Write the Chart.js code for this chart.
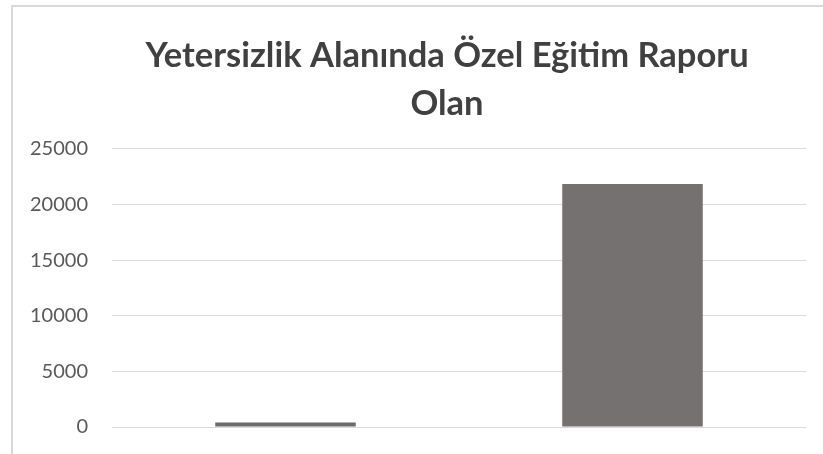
<!DOCTYPE html>
<html>
<head>
<meta charset="utf-8">
<script src="https://cdn.jsdelivr.net/npm/chart.js@4"></script>
<style>
  html, body { margin: 0; padding: 0; background: #fff; }
  #wrap { position: relative; width: 823px; height: 454px; overflow: hidden; }
  #frame { position: absolute; left: 11px; top: 5px; width: 830px; height: 460px;
           border-left: 2px solid #d9d9d9; border-top: 2px solid #d9d9d9; box-sizing: border-box; }
  #c { position: absolute; left: 0; top: 0; }
</style>
</head>
<body>
<div id="wrap">
  <div id="frame"></div>
  <canvas id="c" width="823" height="454"></canvas>
</div>
<script>
const titleLines = ['Yetersizlik Alanında Özel Eğitim Raporu', 'Olan'];
const categories = ['1', '2'];
const values = [400, 21850];
const barColors = ['#6b6b6b', '#767171'];
const yMin = 0;
const yMax = 25000;
const yStep = 5000;

const titleShift = {
  id: 'titleShift',
  afterLayout(chart) {
    const t = chart.titleBlock;
    if (t) { t.left += 44; t.right += 44; }
  }
};

new Chart(document.getElementById('c'), {
  type: 'bar',
  data: {
    labels: categories,
    datasets: [{
      data: values,
      backgroundColor: barColors,
      borderWidth: 0,
      categoryPercentage: 1,
      barPercentage: 0.405
    }]
  },
  options: {
    responsive: false,
    animation: false,
    layout: { padding: { left: 0, right: 17, top: 0, bottom: 27 } },
    plugins: {
      legend: { display: false },
      tooltip: { enabled: false },
      title: {
        display: true,
        text: titleLines,
        color: '#404040',
        font: { family: 'Lato', size: 34.5, weight: 'bold', lineHeight: 1.39 },
        padding: { top: 32, bottom: 21 }
      }
    },
    scales: {
      x: { display: false },
      y: {
        min: yMin,
        max: yMax,
        ticks: {
          stepSize: yStep,
          color: '#595959',
          padding: 24,
          font: { family: 'Lato', size: 20 },
          callback: (v) => String(v)
        },
        grid: { color: '#d9d9d9', lineWidth: 1, drawTicks: false },
        border: { display: false },
        afterFit: (s) => { s.width = 112; s.paddingTop = 0; s.paddingBottom = 0; }
      }
    }
  },
  plugins: [titleShift]
});
</script>
</body>
</html>
